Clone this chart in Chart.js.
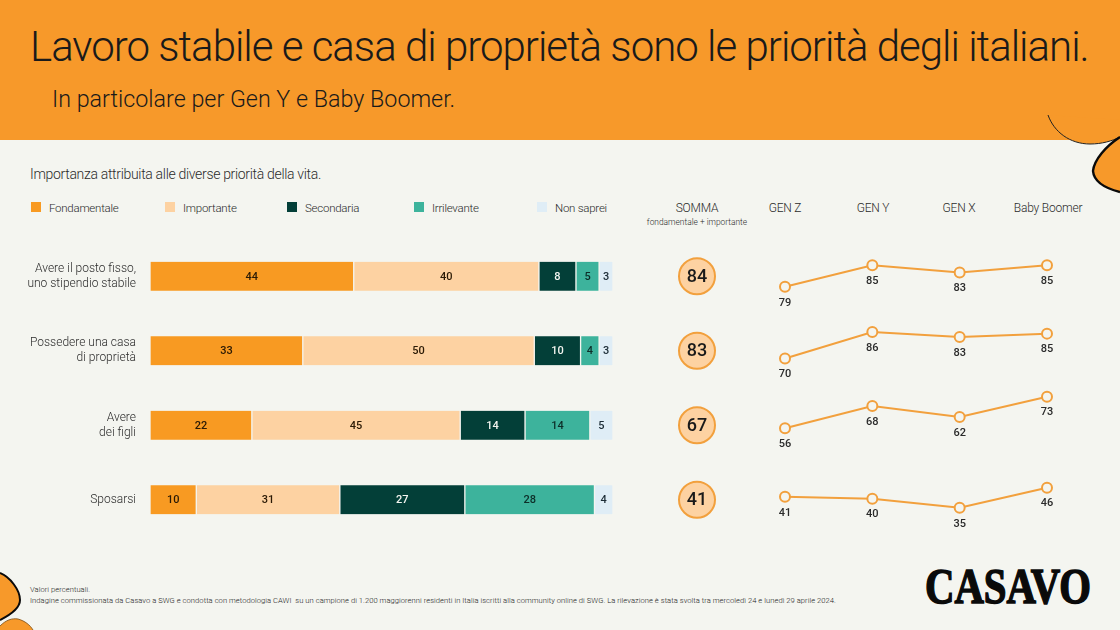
<!DOCTYPE html>
<html lang="it">
<head>
<meta charset="utf-8">
<title>Casavo - priorità degli italiani</title>
<script src="https://cdn.jsdelivr.net/npm/chart.js@4/dist/chart.umd.min.js"></script>
<style>
  html, body { margin: 0; padding: 0; }
  body { width: 1120px; height: 630px; position: relative; overflow: hidden; background: #f4f5f0; font-family: Roboto, sans-serif; color: #2b2b2b; }
  .abs { position: absolute; white-space: nowrap; }
  #header { position: absolute; left: 0; top: 0; width: 1120px; height: 140px; background: #f7992a; }
  #deco { position: absolute; left: 0; top: 0; }
  #title { left: 30px; top: 21px; font-size: 42px; line-height: 52px; font-weight: 300; letter-spacing: -1px; color: #1a1a1a; }
  #subtitle { left: 52px; top: 84px; font-size: 23.3px; line-height: 30px; font-weight: 300; color: #1a1a1a; }
  #question { left: 30px; top: 165px; font-size: 14px; line-height: 18px; font-weight: 300; letter-spacing: -0.32px; }
  .legend-swatch { position: absolute; top: 202px; width: 10px; height: 10px; }
  .legend-text { top: 200px; font-size: 11.5px; line-height: 16px; font-weight: 300; letter-spacing: -0.25px; }
  .col-head { top: 200px; font-size: 12px; line-height: 16px; font-weight: 300; letter-spacing: -0.2px; transform: translateX(-50%); }
  #col-sub { left: 697px; top: 216px; font-size: 8.4px; line-height: 12px; font-weight: 300; transform: translateX(-50%); }
  .foot { left: 30px; font-size: 7.6px; line-height: 10px; font-weight: 300; letter-spacing: 0.045px; color: #222; }
  canvas { position: absolute; }
</style>
</head>
<body>
<div id="header"></div>
<svg id="deco" width="1120" height="630" viewBox="0 0 1120 630">
  <path d="M1048 115 C1054 132 1070 144 1090 144 C1102 144 1112 141 1120 137 L1120 120 Z" fill="#f7992a"/>
  <path d="M1048 115 C1054 132 1070 144 1090 144 C1102 144 1112 141 1120 137" fill="none" stroke="#222" stroke-width="1"/>
  <path d="M1120 137 C1106 146 1094 160 1093 171 C1094 183 1108 189 1120 192 Z" fill="#f7992a"/>
  <path d="M1120 137 C1106 146 1094 160 1093 171 C1094 183 1108 189 1120 192" fill="none" stroke="#0a0a0a" stroke-width="2.4"/>
  <path d="M0 573 C10 577 20 590 20 600 C20 609 8 616 0 620 Z" fill="#f7992a"/>
  <path d="M0 573 C10 577 20 590 20 600 C20 609 8 616 0 620" fill="none" stroke="#0a0a0a" stroke-width="2"/>
  <path d="M0 626 C6 620 12 618 18 619 C25 621 30 625 33 630 L0 630 Z" fill="#f7992a"/>
  <path d="M0 626 C6 620 12 618 18 619 C25 621 30 625 33 630" fill="none" stroke="#7a4a10" stroke-width="0.8"/>
  <text id="brand" x="925" y="603" textLength="166" lengthAdjust="spacingAndGlyphs" font-family="Liberation Serif" font-weight="700" font-size="50" fill="#0a0a0a" stroke="#0a0a0a" stroke-width="1.5">CASAVO</text>
</svg>

<div class="abs" id="title">Lavoro stabile e casa di proprietà sono le priorità degli italiani.</div>
<div class="abs" id="subtitle">In particolare per Gen Y e Baby Boomer.</div>
<div class="abs" id="question">Importanza attribuita alle diverse priorità della vita.</div>
<div id="legend"></div>
<div id="columns"></div>
<div class="abs" id="col-sub">fondamentale + importante</div>
<div class="abs foot" style="top:585px">Valori percentuali.</div>
<div class="abs foot" style="top:596px">Indagine commissionata da Casavo a SWG e condotta con metodologia CAWI&nbsp; su un campione di 1.200 maggiorenni residenti in Italia iscritti alla community online di SWG. La rilevazione è stata svolta tra mercoledì 24 e lunedì 29 aprile 2024.</div>

<canvas id="bars" style="left:0;top:239px" width="613" height="298"></canvas>
<canvas id="sums" style="left:670px;top:239px" width="54" height="298"></canvas>
<canvas id="line0" style="left:745px;top:245px" width="345" height="75"></canvas>
<canvas id="line1" style="left:745px;top:315px" width="345" height="75"></canvas>
<canvas id="line2" style="left:745px;top:385px" width="345" height="75"></canvas>
<canvas id="line3" style="left:745px;top:470px" width="345" height="75"></canvas>

<script>
// Data
const rowLabels = [
  ['Avere il posto fisso,', 'uno stipendio stabile'],
  ['Possedere una casa', 'di proprietà'],
  ['Avere', 'dei figli'],
  ['Sposarsi']
];
const seriesNames = ['Fondamentale', 'Importante', 'Secondaria', 'Irrilevante', 'Non saprei'];
const fondamentale = [44, 33, 22, 10];
const importante = [40, 50, 45, 31];
const secondaria = [8, 10, 14, 27];
const irrilevante = [5, 4, 14, 28];
const nonSaprei = [3, 3, 5, 4];
const somma = [84, 83, 67, 41];

const generations = ['GEN Z', 'GEN Y', 'GEN X', 'Baby Boomer'];
const postoFisso = [79, 85, 83, 85];
const casaProprieta = [70, 86, 83, 85];
const figli = [56, 68, 62, 73];
const sposarsi = [41, 40, 35, 46];

// Styling and layout
const seriesColors = ['#f89a22', '#fdd2a2', '#033f38', '#3db39c', '#dfedf6'];
const labelColors = ['#2b1a05', '#2b1a05', '#f4f5f0', '#0d2e28', '#1c2c36'];
const legendX = [31, 165, 287, 414, 537];
const columnX = [785, 873, 959, 1048];
const lineRanges = [[76.7, 87.9], [66.1, 90.2], [52.3, 73.94], [28.3, 50.25]];
const PAGE_BG = '#f4f5f0';
const LINE_ORANGE = '#f2a03d';
const FONT = 'Roboto, sans-serif';

Chart.defaults.animation = false;
Chart.defaults.responsive = false;
Chart.defaults.font.family = FONT;

// Legend and column headers
document.getElementById('legend').innerHTML = seriesNames.map((name, i) => `
  <span class="legend-swatch" style="left:${legendX[i]}px;background:${seriesColors[i]}"></span>
  <span class="abs legend-text" style="left:${legendX[i] + 18}px">${name}</span>
`).join('');
document.getElementById('columns').innerHTML =
  '<span class="abs col-head" style="left:697px">SOMMA</span>' +
  generations.map((g, i) => `<span class="abs col-head" style="left:${columnX[i]}px">${g}</span>`).join('');

// Value labels in the middle of each bar segment
const barValues = {
  id: 'barValues',
  afterDatasetsDraw(chart) {
    const { ctx } = chart;
    ctx.save();
    ctx.font = `500 11px ${FONT}`;
    ctx.textAlign = 'center';
    ctx.textBaseline = 'middle';
    chart.data.datasets.forEach((ds, d) => {
      ctx.fillStyle = labelColors[d];
      chart.getDatasetMeta(d).data.forEach((bar, i) => {
        const c = bar.getCenterPoint();
        ctx.fillText(ds.data[i], c.x, c.y + 0.5);
      });
    });
    ctx.restore();
  }
};

const seriesValues = [fondamentale, importante, secondaria, irrilevante, nonSaprei];
new Chart(document.getElementById('bars'), {
  type: 'bar',
  data: {
    labels: rowLabels,
    datasets: seriesValues.map((data, i) => ({
      label: seriesNames[i],
      data,
      backgroundColor: seriesColors[i],
      borderColor: PAGE_BG,
      borderWidth: { left: 1, right: 1 },
      borderSkipped: false,
      barThickness: 29
    }))
  },
  options: {
    indexAxis: 'y',
    layout: { padding: 0, autoPadding: false },
    plugins: { legend: { display: false }, tooltip: { enabled: false } },
    scales: {
      x: { stacked: true, display: false, min: 0, max: 100 },
      y: {
        stacked: true,
        // fixed gutter for the row labels, and no extra room above or below the rows
        afterFit(axis) {
          axis.width = 150;
          axis.paddingTop = 0;
          axis.paddingBottom = 0;
        },
        grid: { display: false, drawTicks: false },
        border: { display: false },
        ticks: { padding: 14, color: '#2b2b2b', font: { size: 12, weight: 300, lineHeight: 1.25 } }
      }
    }
  },
  plugins: [barValues]
});

// Somma column: one circle per row, all on the same x
const sumValues = {
  id: 'sumValues',
  afterDatasetsDraw(chart) {
    const { ctx } = chart;
    ctx.save();
    ctx.font = `500 18px ${FONT}`;
    ctx.fillStyle = '#1a1a1a';
    ctx.textAlign = 'center';
    ctx.textBaseline = 'middle';
    chart.getDatasetMeta(0).data.forEach((pt, i) => ctx.fillText(somma[i], pt.x, pt.y + 1));
    ctx.restore();
  }
};
new Chart(document.getElementById('sums'), {
  type: 'line',
  data: {
    datasets: [{
      data: somma.map((v, i) => ({ x: 0, y: i })),
      showLine: false,
      pointRadius: 18,
      pointBorderWidth: 2,
      pointBackgroundColor: '#fdd2a2',
      pointBorderColor: LINE_ORANGE,
      clip: false
    }]
  },
  options: {
    layout: { padding: 0, autoPadding: false },
    plugins: { legend: { display: false }, tooltip: { enabled: false } },
    scales: {
      x: { type: 'linear', display: false, min: -1, max: 1 },
      y: { type: 'linear', display: false, min: -0.5, max: 3.5, reverse: true }
    }
  },
  plugins: [sumValues]
});

// Generation lines: value printed under each point
const pointValues = {
  id: 'pointValues',
  afterDatasetsDraw(chart) {
    const { ctx } = chart;
    const values = chart.data.datasets[0].data;
    ctx.save();
    ctx.font = `500 11px ${FONT}`;
    ctx.fillStyle = '#2b2b2b';
    ctx.textAlign = 'center';
    ctx.textBaseline = 'middle';
    chart.getDatasetMeta(0).data.forEach((pt, i) => ctx.fillText(values[i], pt.x, pt.y + 16));
    ctx.restore();
  }
};

[postoFisso, casaProprieta, figli, sposarsi].forEach((values, i) => {
  new Chart(document.getElementById('line' + i), {
    type: 'line',
    data: {
      labels: generations,
      datasets: [{
        data: values,
        borderColor: LINE_ORANGE,
        borderWidth: 2,
        tension: 0,
        pointRadius: 5,
        pointBorderWidth: 2,
        pointBackgroundColor: PAGE_BG,
        pointBorderColor: LINE_ORANGE,
        clip: false
      }]
    },
    options: {
      layout: { padding: { left: 40, right: 43, top: 10, bottom: 25 }, autoPadding: false },
      plugins: { legend: { display: false }, tooltip: { enabled: false } },
      scales: {
        x: { display: false, offset: false },
        y: { display: false, min: lineRanges[i][0], max: lineRanges[i][1] }
      }
    },
    plugins: [pointValues]
  });
});
</script>
</body>
</html>
